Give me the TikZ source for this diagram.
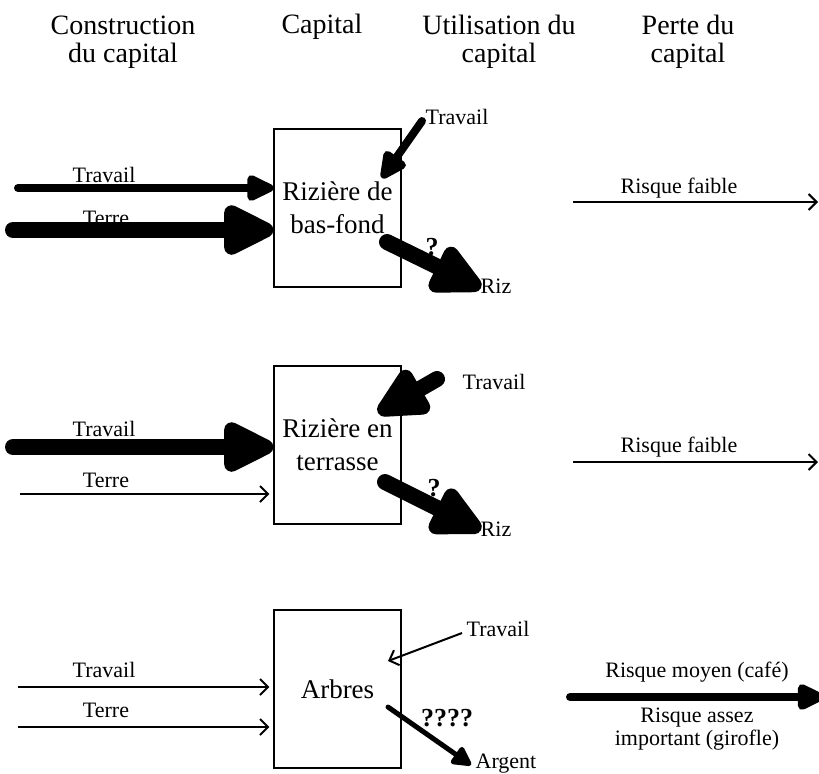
\documentclass[tikz,border=0pt]{standalone}
\usepackage{fontspec}
\setmainfont{Liberation Serif}
\usetikzlibrary{arrows.meta}
\tikzset{
 heavyflow/.style={line width=8pt,line cap=round,-{Triangle[length=30pt,width=27pt,round]}},
 mediumflow/.style={line width=4pt,line cap=round,-{Triangle[length=16pt,width=14pt,round]}},
 lightflow/.style={line width=2.5pt,line cap=round,-{Triangle[length=11pt,width=11pt,round]}},
 thinflow/.style={line width=1pt,-{Straight Barb[length=4pt,width=8pt]}},
 capbox/.style={draw,line width=.6pt,minimum width=63.5pt,minimum height=79pt,inner sep=0,align=center,font=\fontsize{13.5}{16.5}\selectfont},
 heading/.style={align=center,inner sep=0,font=\fontsize{14}{14}\selectfont},
 lab/.style={inner sep=0,align=center,font=\fontsize{11}{11.5}\selectfont},
 doubt/.style={inner sep=0,font=\fontsize{13}{14}\selectfont\bfseries}
}
\begin{document}
\begin{tikzpicture}[x=.5pt,y=-.5pt]
\path[use as bounding box] (0,0) rectangle (819,773);
\node[heading] (H1) at (123,42) {Construction\\du capital};
\node[heading] (H2) at (322,27) {Capital};
\node[heading] (H3) at (499,42) {Utilisation du\\capital};
\node[heading] (H4) at (688,42) {Perte du\\capital};
\node[capbox] (B1) at (337.5,208) {Rizière de\\bas-fond};
\node[capbox] (B2) at (337.5,445) {Rizière en\\terrasse};
\node[capbox] (B3) at (337.5,689) {Arbres};
\node[lab] (B1tl) at (104,175) {Travail};
\node[lab] (B1rl) at (106,218) {Terre};
\coordinate (B1t) at (18,188);
\coordinate (B1r) at (13,230);
\draw[mediumflow] (B1t) -- (B1t -| B1.west);
\draw[heavyflow] (B1r) -- (B1r -| B1.west);
\node[lab] (B1il) at (457,117) {Travail};
\coordinate (B1i) at (422,121);
\coordinate (B1ie) at (382,178);
\draw[mediumflow] (B1i) -- (B1ie);
\coordinate (B1o) at (387,242);
\coordinate (B1oe) at (481,288);
\draw[heavyflow] (B1o) -- (B1oe);
\node[doubt] (B1q) at (432,247) {?};
\node[lab] (B1ol) at (496,286) {Riz};
\node[lab] (P1l) at (679,188) {Risque faible};
\coordinate (P1s) at (573,202);
\coordinate (P1e) at (818,202);
\draw[thinflow] (P1s) -- (P1e);
\node[lab] (B2tl) at (104,429) {Travail};
\node[lab] (B2rl) at (106,480) {Terre};
\coordinate (B2t) at (13,447);
\coordinate (B2r) at (20,494);
\draw[heavyflow] (B2t) -- (B2t -| B2.west);
\draw[thinflow] (B2r) -- ([xshift=-2pt]B2r -| B2.west);
\node[lab] (B2il) at (494,382) {Travail};
\coordinate (B2i) at (437,379);
\coordinate (B2ie) at (378,413);
\draw[heavyflow] (B2i) -- (B2ie);
\coordinate (B2o) at (385,482);
\coordinate (B2oe) at (481,530);
\draw[heavyflow] (B2o) -- (B2oe);
\node[doubt] (B2q) at (434,488) {?};
\node[lab] (B2ol) at (496,529) {Riz};
\node[lab] (P2l) at (679,447) {Risque faible};
\coordinate (P2s) at (573,462);
\coordinate (P2e) at (818,462);
\draw[thinflow] (P2s) -- (P2e);
\node[lab] (B3tl) at (104,670) {Travail};
\node[lab] (B3rl) at (106,710) {Terre};
\coordinate (B3t) at (18,687);
\coordinate (B3r) at (18,727);
\draw[thinflow] (B3t) -- ([xshift=-2pt]B3t -| B3.west);
\draw[thinflow] (B3r) -- ([xshift=-2pt]B3r -| B3.west);
\node[lab] (B3il) at (498,629) {Travail};
\coordinate (B3i) at (462,633);
\coordinate (B3ie) at (388,661);
\draw[thinflow] (B3i) -- (B3ie);
\coordinate (B3o) at (388,707);
\coordinate (B3oe) at (471,765);
\draw[lightflow] (B3o) -- (B3oe);
\node[doubt] (B3q) at (447,718) {????};
\node[lab] (B3ol) at (506,764) {Argent};
\node[lab] (P3l) at (697,672) {Risque moyen (café)};
\node[lab] (P3m) at (697,729) {Risque assez\\important (girofle)};
\coordinate (P3s) at (570,697);
\coordinate (P3e) at (824,697);
\draw[mediumflow] (P3s) -- (P3e);
\end{tikzpicture}
\end{document}
